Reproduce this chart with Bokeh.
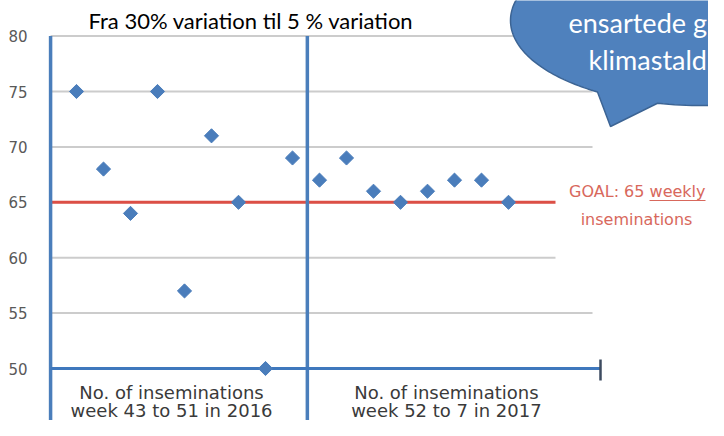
import numpy as np
from bokeh.plotting import figure
from bokeh.models import Range1d, FixedTicker
from bokeh.core.properties import value
from bokeh.embed import file_html
from bokeh.resources import INLINE

# ---------------- data ----------------
weeks = ["43", "44", "45", "46", "47", "48", "49", "50", "51",
         "52", "1", "2", "3", "4", "5", "6", "7"]
inseminations = [75, 68, 64, 75, 57, 71, 65, 50, 69,
                 67, 69, 66, 65, 66, 67, 67, 65]
goal = 65
y_ticks = [50, 55, 60, 65, 70, 75, 80]
title_text = "Fra 30% variation til 5 % variation"
group_line1 = ["No. of inseminations", "No. of inseminations"]
group_line2 = ["week 43 to 51 in 2016", "week 52 to 7 in 2017"]
group_centers = [4.52, 14.7]
dividers = [0.04, 9.55]
goal_lines = ["GOAL: 65 weekly", "inseminations"]
bubble_lines = ["ensartede g", "klimastald"]

# ---------------- geometry (canvas pixels -> data) ----------------
W, H = 708, 420
LEFT = 44
X0_PX, DX_PX = 49.0, 27.0
Y50_PX, DY_PX = 368.0, 11.08


def xd(px):
    return (np.asarray(px, dtype=float) - X0_PX) / DX_PX


def yd(py):
    return 50 + (Y50_PX - np.asarray(py, dtype=float)) / DY_PX


p = figure(width=W, height=H,
           x_range=Range1d(float(xd(LEFT)), float(xd(W))),
           y_range=Range1d(float(yd(H)), float(yd(0))),
           output_backend="svg", toolbar_location=None,
           x_axis_location=None,
           min_border_left=LEFT, min_border_right=0,
           min_border_top=0, min_border_bottom=0,
           outline_line_color=None,
           background_fill_color="white", border_fill_color="white")
p.grid.visible = False

ax = p.yaxis[0]
ax.ticker = FixedTicker(ticks=y_ticks)
ax.axis_line_color = None
ax.major_tick_line_color = None
ax.minor_tick_line_color = None
ax.major_label_standoff = 11
ax.major_label_text_font = "DejaVu Sans"
ax.major_label_text_font_size = "15px"
ax.major_label_text_color = "#595959"

x_end_grid = float(xd(592))
x_end_axis = float(xd(600))

# horizontal gridlines
gy = y_ticks[1:]
p.segment(x0=[dividers[0]] * len(gy), x1=[x_end_grid] * len(gy), y0=gy, y1=gy,
          line_color="#cccccc", line_width=2)

# goal line
p.segment(x0=[dividers[0]], x1=[x_end_grid], y0=[goal], y1=[goal],
          line_color="#dc4f46", line_width=3)

# white box behind the goal note
p.quad(left=[float(xd(555))], right=[float(xd(720))],
       top=[float(yd(176))], bottom=[float(yd(262))],
       fill_color="white", line_color=None)

# blue dividers
p.segment(x0=dividers, x1=dividers, y0=[y_ticks[-1]] * 2, y1=[40] * 2,
          line_color="#4a7ebb", line_width=3.5)

# blue base axis at 50 + end tick
p.segment(x0=[dividers[0]], x1=[x_end_axis], y0=[y_ticks[0]], y1=[y_ticks[0]],
          line_color="#3f78bd", line_width=3)
p.segment(x0=[x_end_axis], x1=[x_end_axis],
          y0=[float(yd(359))], y1=[float(yd(380))],
          line_color="#3d4b60", line_width=2.5)

# data points
xs = list(range(1, len(inseminations) + 1))
p.scatter(x=xs, y=inseminations, marker="square", angle=np.pi / 4,
          size=10, fill_color="#4a7dbb", line_color="#4a7dbb")

# title
p.text(x=[float(xd(88))], y=[float(yd(20))], text=[title_text],
       text_font=value("Lato"), text_font_size="22px", text_color="#000000",
       text_align="left", text_baseline="middle")

# group labels
p.text(x=group_centers, y=[float(yd(392))] * 2, text=group_line1,
       text_font=value("DejaVu Sans"), text_font_size="18px",
       text_color="#3a3a3a", text_align="center", text_baseline="middle")
p.text(x=group_centers, y=[float(yd(410))] * 2, text=group_line2,
       text_font=value("DejaVu Sans"), text_font_size="18px",
       text_color="#3a3a3a", text_align="center", text_baseline="middle")

# goal note (right aligned so it stays inside the canvas)
goal_right = 705.0
p.text(x=[float(xd(goal_right))], y=[float(yd(191))], text=[goal_lines[0]],
       text_font=value("DejaVu Sans"), text_font_size="16px",
       text_color="#d8685c", text_align="right", text_baseline="middle")
p.text(x=[float(xd(636))], y=[float(yd(219))], text=[goal_lines[1]],
       text_font=value("DejaVu Sans"), text_font_size="16px",
       text_color="#d8685c", text_align="center", text_baseline="middle")
p.segment(x0=[float(xd(goal_right - 56))], x1=[float(xd(goal_right))],
          y0=[float(yd(200))], y1=[float(yd(200))],
          line_color="#d8685c", line_width=1.2)

# speech bubble
cx, cy, a, b = 700.0, 20.0, 190.0, 85.0
t1 = np.arccos((657 - cx) / a)
t2 = np.arccos((597 - cx) / a)
ta = np.linspace(0, t1, 60)
tb = np.linspace(t2, 2 * np.pi, 200)
bx = np.concatenate([cx + a * np.cos(ta), [610.0], cx + a * np.cos(tb)])
by = np.concatenate([cy + b * np.sin(ta), [126.0], cy + b * np.sin(tb)])
p.patch(x=xd(bx), y=yd(by), fill_color="#4f81bd", line_color="#3c6494", line_width=1.5)
p.text(x=[float(xd(568)), float(xd(588))], y=[float(yd(22)), float(yd(59))],
       text=bubble_lines, text_font=value("Lato"), text_font_size="27px",
       text_color="white", text_align="left", text_baseline="middle")

open("out.html", "w").write(file_html(p, INLINE))
